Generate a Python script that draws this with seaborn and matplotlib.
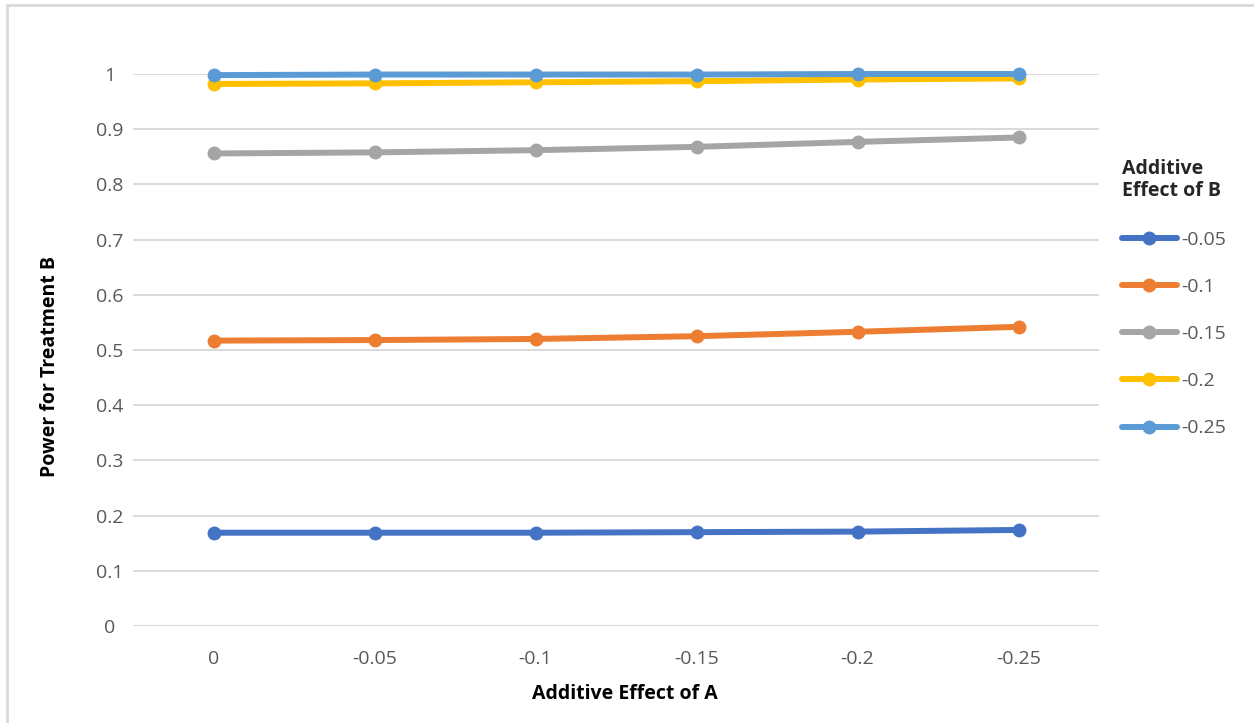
import matplotlib
matplotlib.use("Agg")
import matplotlib.pyplot as plt
import seaborn as sns
import pandas as pd
from matplotlib.ticker import FuncFormatter
from matplotlib.patches import Rectangle

# ---- data ----
effect_a = ["0", "-0.05", "-0.1", "-0.15", "-0.2", "-0.25"]
effect_b = ["-0.05", "-0.1", "-0.15", "-0.2", "-0.25"]
power_b005 = [0.169, 0.169, 0.169, 0.170, 0.171, 0.174]
power_b010 = [0.517, 0.518, 0.520, 0.525, 0.533, 0.542]
power_b015 = [0.856, 0.858, 0.862, 0.868, 0.877, 0.885]
power_b020 = [0.982, 0.983, 0.985, 0.987, 0.990, 0.992]
power_b025 = [0.998, 0.999, 0.999, 0.999, 1.000, 1.000]
colors = ["#4472C4", "#ED7D31", "#A5A5A5", "#FFC000", "#5B9BD5"]

series = [power_b005, power_b010, power_b015, power_b020, power_b025]
rows = []
for b, vals in zip(effect_b, series):
    for a, v in zip(effect_a, vals):
        rows.append({"A": a, "B": b, "Power": v})
df = pd.DataFrame(rows)

sns.set_theme(style="white")
plt.rcParams["font.family"] = ["Open Sans", "DejaVu Sans"]

FS = 14
fig = plt.figure(figsize=(12.54, 7.23), dpi=100)
ax = fig.add_axes([133 / 1254, 1 - 626 / 723, (1099 - 133) / 1254, (626 - 74) / 723])

sns.lineplot(data=df, x="A", y="Power", hue="B", hue_order=effect_b,
             palette=colors, marker="o", markersize=10, markeredgewidth=0,
             linewidth=4.3, sort=False, ax=ax, legend=True, clip_on=False)

ax.set_xlim(-0.5, len(effect_a) - 0.5)
ax.set_ylim(0, 1)
ax.set_yticks([i / 10 for i in range(11)])
ax.yaxis.set_major_formatter(FuncFormatter(lambda v, p: f"{v:g}"))
ax.grid(axis="y", color="#D9D9D9", linewidth=1.4)
ax.grid(axis="x", visible=False)
ax.set_axisbelow(True)
for s in ax.spines.values():
    s.set_visible(False)
ax.tick_params(axis="both", length=0, labelsize=FS, labelcolor="#595959")
ax.tick_params(axis="y", pad=17)
for t in ax.get_yticklabels():
    t.set_horizontalalignment("center")
ax.tick_params(axis="x", pad=17)

ax.set_xlabel("Additive Effect of A", fontsize=FS, fontweight="bold",
              color="#000000")
ax.xaxis.set_label_coords((625 - 133) / 966, -(684 - 626) / 552)
ax.set_ylabel("Power for Treatment B", fontsize=FS, fontweight="bold",
              color="#000000")
ax.yaxis.set_label_coords(-(133 - 60) / 966, (626 - 366) / 552)

handles, labels = ax.get_legend_handles_labels()
ax.get_legend().remove()
leg = fig.legend(handles, labels, title="Additive\nEffect of B",
                 loc="upper left", bbox_to_anchor=(1104 / 1254, 1 - 141 / 723),
                 frameon=False, fontsize=FS, title_fontsize=FS,
                 handlelength=2.85, handletextpad=0.2, labelspacing=1.5,
                 alignment="left")
leg.get_title().set_fontweight("bold")
for t in leg.get_texts():
    t.set_color("#595959")
for h in leg.legend_handles:
    h.set_linewidth(4.3)
    h.set_markersize(10)

fig.patches.append(Rectangle((7 / 1254, -0.1), 1.2, 1 - 5 / 723 + 0.1,
                             transform=fig.transFigure, fill=False,
                             edgecolor="#D9D9D9", linewidth=2))

fig.savefig("out.png", dpi=100, facecolor="white")
